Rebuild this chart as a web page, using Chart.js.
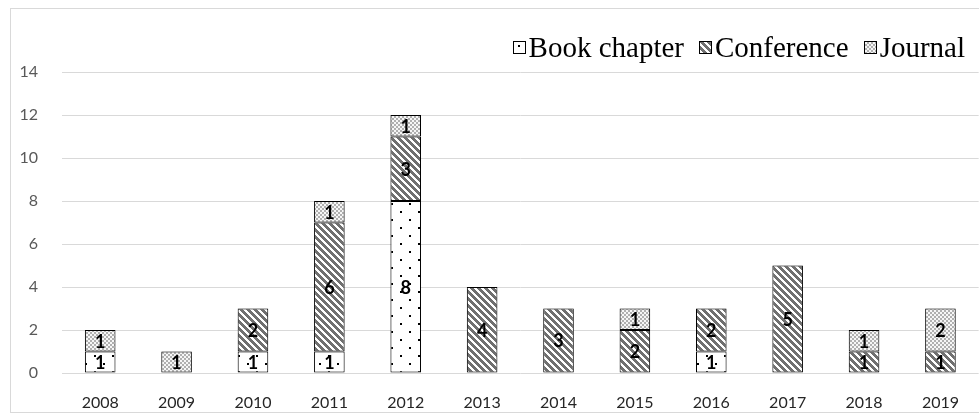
<!DOCTYPE html>
<html lang="en">
<head>
<meta charset="UTF-8">
<title>Publications per year</title>
<script src="https://cdn.jsdelivr.net/npm/chart.js"></script>
<style>
    body {
        margin: 0;
        background: #fff;
        overflow: hidden;
    }

    .wrap {
        position: relative;
        width: 979px;
        height: 414px;
    }

    .frame {
        position: absolute;
        left: 10px;
        top: 8px;
        width: 1000px;
        height: 403px;
        border: 1px solid #d9d9d9;
        pointer-events: none;
    }

    .legend {
        position: absolute;
        right: 14px;
        top: 30px;
        display: flex;
        align-items: center;
        font-family: 'Liberation Serif', 'Times New Roman', serif;
        font-size: 29px;
        line-height: 34px;
        color: #000;
    }

    .legend .item {
        display: flex;
        align-items: center;
        margin-left: 15px;
    }

    .legend canvas {
        border: 1px solid #000;
        margin-right: 3px;
    }
</style>
</head>
<body>
<div class="wrap">
    <canvas id="pubChart" width="979" height="414"></canvas>
    <div class="frame"></div>
    <div class="legend" id="legend"></div>
</div>

<script>
    // data
    var years = ['2008', '2009', '2010', '2011', '2012', '2013', '2014', '2015', '2016', '2017', '2018', '2019'];
    var bookChapter = [1, 0, 1, 1, 8, 0, 0, 0, 1, 0, 0, 0];
    var conference = [0, 0, 2, 6, 3, 4, 3, 2, 2, 5, 1, 1];
    var journal = [1, 1, 0, 1, 1, 0, 0, 1, 0, 0, 1, 2];
    var seriesNames = ['Book chapter', 'Conference', 'Journal'];
    var yMax = 14;
    var yStep = 2;

    // little fill tiles that mimic the office hatch patterns
    function makeTile(kind) {
        var c = document.createElement('canvas');
        var g = c.getContext('2d');
        if (kind === 'dots') {
            c.width = 18; c.height = 16;
            g.fillStyle = '#fff';
            g.fillRect(0, 0, 18, 16);
            g.fillStyle = '#000';
            g.fillRect(4, 3, 2, 2);
            g.fillRect(13, 11, 2, 2);
        } else if (kind === 'stripes') {
            c.width = 7; c.height = 7;
            for (var y = 0; y < 7; y++) {
                for (var x = 0; x < 7; x++) {
                    g.fillStyle = ((x - y + 70) % 7) < 4 ? '#707070' : '#fff';
                    g.fillRect(x, y, 1, 1);
                }
            }
        } else {
            c.width = 4; c.height = 4;
            for (var y2 = 0; y2 < 4; y2++) {
                for (var x2 = 0; x2 < 4; x2++) {
                    g.fillStyle = ((x2 >> 1) + (y2 >> 1)) % 2 ? '#b0b0b0' : '#f6f6f6';
                    g.fillRect(x2, y2, 1, 1);
                }
            }
        }
        return c;
    }

    var tiles = [makeTile('dots'), makeTile('stripes'), makeTile('checker')];

    var ctx = document.getElementById('pubChart').getContext('2d');
    var fills = tiles.map(function (t) { return ctx.createPattern(t, 'repeat'); });

    function noZeros(arr) {
        return arr.map(function (v) { return v === 0 ? null : v; });
    }

    // soft glow behind the bars, then the numbers inside each segment
    var barDecor = {
        id: 'barDecor',
        beforeDatasetsDraw: function (chart) {
            var c = chart.ctx;
            c.save();
            c.shadowColor = 'rgba(0, 0, 0, 0.22)';
            c.shadowBlur = 6;
        },
        afterDatasetsDraw: function (chart) {
            var c = chart.ctx;
            c.restore();
            c.save();
            c.font = 'bold 18px Lato';
            c.fillStyle = '#000';
            c.textAlign = 'center';
            c.textBaseline = 'middle';
            chart.data.datasets.forEach(function (ds, i) {
                chart.getDatasetMeta(i).data.forEach(function (bar, j) {
                    var v = ds.data[j];
                    if (!v) return;
                    c.fillText(v, bar.x, (bar.y + bar.base) / 2 + 1);
                });
            });
            c.restore();
        }
    };

    var pubChart = new Chart(ctx, {
        type: 'bar',
        data: {
            labels: years,
            datasets: [
                { label: seriesNames[0], data: noZeros(bookChapter), backgroundColor: fills[0] },
                { label: seriesNames[1], data: noZeros(conference), backgroundColor: fills[1] },
                { label: seriesNames[2], data: noZeros(journal), backgroundColor: fills[2] }
            ]
        },
        options: {
            responsive: false,
            animation: false,
            layout: { padding: { top: 72, left: 0, right: 0, bottom: 0 } },
            datasets: {
                bar: {
                    borderColor: '#000',
                    borderWidth: 1,
                    borderSkipped: false,
                    barPercentage: 1,
                    categoryPercentage: 0.4
                }
            },
            plugins: {
                legend: { display: false },
                tooltip: { enabled: false }
            },
            scales: {
                x: {
                    stacked: true,
                    grid: { display: false, drawTicks: false },
                    border: { display: false },
                    ticks: {
                        color: '#262626',
                        padding: 20,
                        font: { family: 'Lato', size: 16 }
                    },
                    afterFit: function (scale) { scale.height = 41; }
                },
                y: {
                    stacked: true,
                    min: 0,
                    max: yMax,
                    grid: { color: '#d9d9d9', lineWidth: 1, drawTicks: false },
                    border: { display: false },
                    ticks: {
                        stepSize: yStep,
                        color: '#595959',
                        padding: 24,
                        font: { family: 'Lato', size: 16 }
                    },
                    afterFit: function (scale) { scale.width = 62; }
                }
            }
        },
        plugins: [barDecor]
    });

    // legend with the same pattern swatches
    var legend = document.getElementById('legend');
    seriesNames.forEach(function (name, i) {
        var item = document.createElement('span');
        item.className = 'item';
        var sw = document.createElement('canvas');
        sw.width = 11; sw.height = 11;
        var sg = sw.getContext('2d');
        sg.fillStyle = sg.createPattern(tiles[i], 'repeat');
        sg.fillRect(0, 0, 11, 11);
        item.appendChild(sw);
        item.appendChild(document.createTextNode(name));
        legend.appendChild(item);
    });
</script>
</body>
</html>
